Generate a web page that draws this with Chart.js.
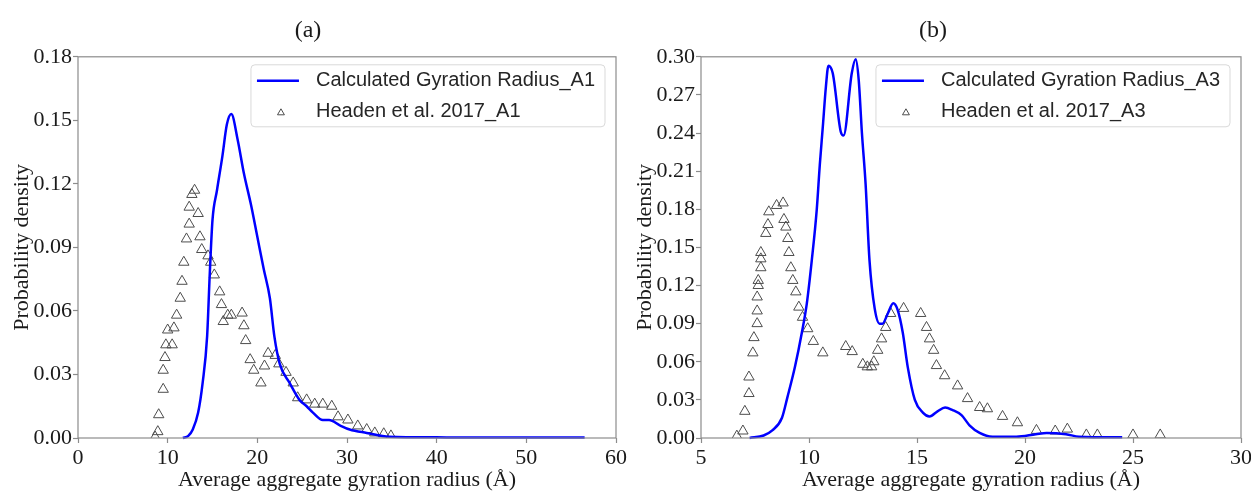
<!DOCTYPE html>
<html>
<head>
<meta charset="utf-8">
<script src="https://cdn.jsdelivr.net/npm/chart.js@4.4.1/dist/chart.umd.min.js"></script>
<style>
  html, body { margin: 0; padding: 0; background: #fff; overflow: hidden; }
  .wrap { position: absolute; top: 0; }
  #wrapA { left: 0; }
  #wrapB { left: 625px; }
</style>
</head>
<body>
<div class="wrap" id="wrapA"><canvas id="chartA" width="644" height="493"></canvas></div>
<div class="wrap" id="wrapB"><canvas id="chartB" width="642" height="493"></canvas></div>
<script>
// panel (a) - A1
const calcXA = [11.7, 12.3, 12.8, 13.4, 13.9, 14.4, 14.7, 15.0, 15.5, 16.1, 16.6, 17.1, 17.8, 18.5, 19.3, 20.0, 20.7, 21.4, 21.9, 22.5, 23.6, 24.7, 25.5, 26.2, 27.3, 28.0, 29.2, 30.3, 32.2, 34.7, 40, 50, 56.5];
const calcYA = [0, 0.001, 0.004, 0.012, 0.026, 0.048, 0.078, 0.103, 0.117, 0.133, 0.148, 0.153, 0.141, 0.125, 0.110, 0.095, 0.080, 0.066, 0.048, 0.035, 0.026, 0.018, 0.015, 0.012, 0.0085, 0.0085, 0.006, 0.004, 0.0024, 0.0006, 0.0003, 0.0002, 0.0002];
const headXA = [8.6, 8.9, 9.0, 9.5, 9.5, 9.7, 9.8, 10.0, 10.5, 10.7, 11.0, 11.4, 11.6, 11.8, 12.1, 12.4, 12.4, 12.7, 13.0, 13.4, 13.6, 13.8, 14.5, 14.8, 15.2, 15.8, 16.0, 16.2, 16.7, 17.1, 18.3, 18.5, 18.7, 19.2, 19.6, 20.4, 20.8, 21.2, 22.0, 22.4, 23.2, 24.0, 24.5, 25.5, 26.4, 27.3, 28.3, 29.0, 30.1, 31.2, 32.2, 33.1, 34.1, 34.9];
const headYA = [0.0005, 0.003, 0.011, 0.023, 0.032, 0.038, 0.044, 0.051, 0.044, 0.052, 0.058, 0.066, 0.074, 0.083, 0.094, 0.101, 0.109, 0.115, 0.117, 0.106, 0.095, 0.089, 0.086, 0.083, 0.077, 0.069, 0.063, 0.055, 0.058, 0.058, 0.059, 0.053, 0.046, 0.037, 0.032, 0.026, 0.034, 0.040, 0.039, 0.035, 0.031, 0.026, 0.019, 0.018, 0.016, 0.016, 0.015, 0.010, 0.0085, 0.0057, 0.004, 0.0024, 0.002, 0.001];
const xTicksA = [0, 10, 20, 30, 40, 50, 60];
const yTicksA = [0, 0.03, 0.06, 0.09, 0.12, 0.15, 0.18];

// panel (b) - A3
const calcXB = [7.25, 7.9, 8.3, 8.75, 9.0, 9.35, 9.67, 9.9, 10.13, 10.36, 10.5, 10.64, 10.78, 10.9, 11.1, 11.47, 11.6, 11.98, 12.16, 12.3, 12.45, 12.62, 12.8, 13.04, 13.27, 13.4, 13.65, 13.9, 14.1, 14.34, 14.57, 14.9, 15.27, 15.58, 15.95, 16.3, 16.65, 17.06, 17.43, 17.9, 18.5, 19.6, 20.5, 21.0, 21.9, 22.5, 24.5];
const calcYB = [0, 0.002, 0.006, 0.016, 0.032, 0.056, 0.083, 0.106, 0.140, 0.180, 0.215, 0.245, 0.276, 0.293, 0.287, 0.241, 0.238, 0.287, 0.298, 0.282, 0.240, 0.200, 0.140, 0.102, 0.090, 0.090, 0.098, 0.106, 0.101, 0.083, 0.056, 0.030, 0.020, 0.017, 0.021, 0.024, 0.022, 0.018, 0.010, 0.004, 0.001, 0.001, 0.003, 0.004, 0.003, 0.001, 0.0005];
const headXB = [6.66, 6.94, 7.03, 7.22, 7.22, 7.4, 7.45, 7.6, 7.6, 7.6, 7.65, 7.65, 7.77, 7.77, 7.77, 8.0, 8.1, 8.14, 8.5, 8.8, 8.84, 8.93, 9.02, 9.07, 9.16, 9.25, 9.39, 9.53, 9.7, 9.94, 10.2, 10.64, 11.7, 12.0, 12.49, 12.7, 12.9, 13.0, 13.18, 13.36, 13.55, 13.78, 14.38, 15.17, 15.44, 15.58, 15.77, 15.9, 16.28, 16.88, 17.34, 17.9, 18.26, 18.96, 19.65, 20.53, 21.4, 21.96, 22.84, 23.35, 25.0, 26.26];
const headYB = [0.0015, 0.0055, 0.021, 0.035, 0.048, 0.067, 0.079, 0.090, 0.100, 0.111, 0.120, 0.124, 0.134, 0.141, 0.146, 0.161, 0.168, 0.178, 0.183, 0.185, 0.172, 0.166, 0.157, 0.146, 0.134, 0.124, 0.115, 0.103, 0.095, 0.086, 0.076, 0.067, 0.072, 0.068, 0.058, 0.056, 0.056, 0.060, 0.069, 0.078, 0.087, 0.098, 0.102, 0.098, 0.087, 0.078, 0.069, 0.057, 0.049, 0.041, 0.031, 0.024, 0.023, 0.017, 0.012, 0.006, 0.0055, 0.007, 0.0024, 0.0024, 0.0024, 0.0024];
const xTicksB = [5, 10, 15, 20, 25, 30];
const yTicksB = [0, 0.03, 0.06, 0.09, 0.12, 0.15, 0.18, 0.21, 0.24, 0.27, 0.30];

const serif = 'Liberation Serif';
const sans = 'Liberation Sans';
const axisGray = '#8c8c8c';
const textDark = '#1a1a1a';

function toPoints(xs, ys) {
  return xs.map((x, i) => ({ x: x, y: ys[i] }));
}

// full box round the plot, like the matplotlib spines
const framePlugin = {
  id: 'frame',
  afterDatasetsDraw(chart) {
    const a = chart.chartArea;
    const ctx = chart.ctx;
    ctx.save();
    ctx.strokeStyle = axisGray;
    ctx.lineWidth = 1.2;
    ctx.strokeRect(a.left, a.top, a.right - a.left, a.bottom - a.top);
    ctx.restore();
  }
};

// legend in a rounded box at the top right of the plot
const boxLegend = {
  id: 'boxLegend',
  afterDraw(chart) {
    const ctx = chart.ctx;
    const a = chart.chartArea;
    const sets = chart.data.datasets;
    ctx.save();
    ctx.font = '20px "' + sans + '"';
    const textW = Math.max(...sets.map(d => ctx.measureText(d.label).width));
    const w = 6 + 42 + 17 + textW + 10;
    const h = 62;
    const x0 = a.right - 11 - w;
    const y0 = a.top + 8;
    ctx.beginPath();
    ctx.roundRect(x0, y0, w, h, 4);
    ctx.fillStyle = 'rgba(255,255,255,0.8)';
    ctx.fill();
    ctx.strokeStyle = '#d9d9d9';
    ctx.lineWidth = 1;
    ctx.stroke();

    const row1 = y0 + 16, row2 = y0 + 47;
    ctx.strokeStyle = sets[0].borderColor;
    ctx.lineWidth = sets[0].borderWidth;
    ctx.beginPath();
    ctx.moveTo(x0 + 6, row1);
    ctx.lineTo(x0 + 48, row1);
    ctx.stroke();

    ctx.fillStyle = 'rgba(0,0,0,0)';
    ctx.strokeStyle = sets[1].borderColor;
    ctx.lineWidth = 1;
    Chart.helpers.drawPoint(ctx, { pointStyle: 'triangle', radius: 4, borderWidth: 1 }, x0 + 30, row2 + 1);

    ctx.fillStyle = '#262626';
    ctx.textBaseline = 'middle';
    ctx.fillText(sets[0].label, x0 + 65, row1);
    ctx.fillText(sets[1].label, x0 + 65, row2);
    ctx.restore();
  }
};

function panel(canvasId, p) {
  const tickFont = { family: serif, size: 22 };
  new Chart(canvasId, {
    type: 'scatter',
    data: {
      datasets: [
        {
          label: p.calcLabel,
          data: toPoints(p.calcX, p.calcY),
          showLine: true,
          borderColor: '#0000ff',
          borderWidth: 2.5,
          pointRadius: 0,
          cubicInterpolationMode: 'monotone',
          clip: 2,
        },
        {
          label: p.headLabel,
          data: toPoints(p.headX, p.headY),
          showLine: false,
          pointStyle: 'triangle',
          pointRadius: 6,
          borderColor: '#4d4d4d',
          backgroundColor: 'rgba(0,0,0,0)',
          borderWidth: 1,
          clip: 0,
        },
      ],
    },
    options: {
      responsive: false,
      animation: false,
      devicePixelRatio: 1,
      layout: { padding: { left: 0, right: p.padRight, top: 0, bottom: 0 } },
      plugins: {
        legend: { display: false },
        tooltip: { enabled: false },
        title: {
          display: true,
          text: p.title,
          color: textDark,
          font: { family: serif, size: 24, weight: 'normal' },
          padding: { top: 16, bottom: 12 },
        },
      },
      scales: {
        x: {
          type: 'linear',
          min: p.xTicks[0],
          max: p.xTicks[p.xTicks.length - 1],
          afterBuildTicks: s => { s.ticks = p.xTicks.map(v => ({ value: v })); },
          afterFit: s => { s.height = 55; },
          border: { display: false },
          grid: { drawOnChartArea: false, color: axisGray, tickLength: 5, tickWidth: 1.2 },
          ticks: { font: tickFont, color: textDark, padding: 2, maxRotation: 0, callback: v => String(v) },
          title: {
            display: true,
            text: 'Average aggregate gyration radius (Å)',
            color: textDark,
            font: tickFont,
            padding: { top: 0, bottom: 0 },
          },
        },
        y: {
          min: 0,
          max: p.yTicks[p.yTicks.length - 1],
          afterBuildTicks: s => { s.ticks = p.yTicks.map(v => ({ value: v })); },
          afterFit: s => { s.width = p.yAxisWidth; },
          border: { display: false },
          grid: { drawOnChartArea: false, color: axisGray, tickLength: 5, tickWidth: 1.2 },
          ticks: { font: tickFont, color: textDark, padding: 1, callback: v => v.toFixed(2) },
          title: {
            display: true,
            text: 'Probability density',
            color: textDark,
            font: tickFont,
            padding: { top: p.yTitlePad, bottom: 0 },
          },
        },
      },
    },
    plugins: [framePlugin, boxLegend],
  });
}

panel('chartA', {
  title: '(a)',
  calcLabel: 'Calculated Gyration Radius_A1',
  headLabel: 'Headen et al. 2017_A1',
  calcX: calcXA, calcY: calcYA,
  headX: headXA, headY: headYA,
  xTicks: xTicksA, yTicks: yTicksA,
  yAxisWidth: 78, padRight: 28, yTitlePad: 9,
});

panel('chartB', {
  title: '(b)',
  calcLabel: 'Calculated Gyration Radius_A3',
  headLabel: 'Headen et al. 2017_A3',
  calcX: calcXB, calcY: calcYB,
  headX: headXB, headY: headYB,
  xTicks: xTicksB, yTicks: yTicksB,
  yAxisWidth: 76, padRight: 26, yTitlePad: 7,
});
</script>
</body>
</html>
